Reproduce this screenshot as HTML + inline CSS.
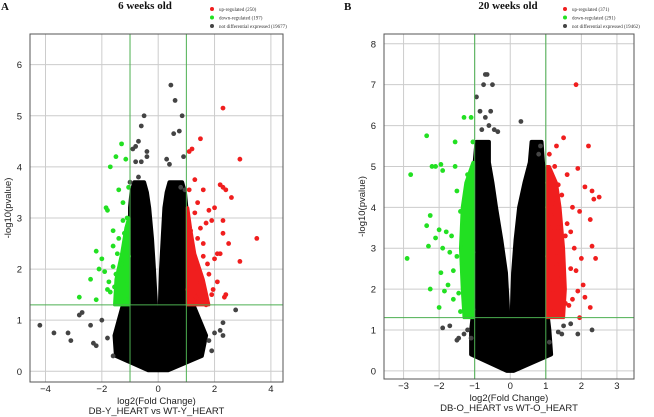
<!DOCTYPE html>
<html><head><meta charset="utf-8"><style>
html,body{margin:0;padding:0;background:#fff;width:654px;height:417px;overflow:hidden}
svg{display:block}
.t{font-family:"Liberation Sans",sans-serif;font-size:9.5px;fill:#222}
.s{font-family:"Liberation Serif",serif;font-size:5px;fill:#333}
.h{font-family:"Liberation Serif",serif;font-size:11px;font-weight:bold;fill:#111}
</style></head><body>
<svg id="chart" width="654" height="417"></svg>
<script>
// ---------- data: panel A (6 weeks) ----------
const aLegend = ["up-regulated (250)","down-regulated (197)","not differential expressed (19677)"];
const aXTicks = [-4,-2,0,2,4];
const aYTicks = [0,1,2,3,4,5,6];
// envelope of dense black cloud: y, leftOuter, leftInner, rightInner, rightOuter
const aEnvY  = [0.02,0.3,0.7,1.3,2.0,2.6,3.2,3.5,3.7];
const aEnvLO = [-0.35,-1.5,-1.55,-1.25,-1.02,-1.0,-1.0,-0.95,-0.85];
const aEnvLI = [-0.02,-0.04,-0.05,-0.08,-0.15,-0.22,-0.32,-0.4,-0.5];
const aEnvRI = [0.02,0.03,0.04,0.06,0.1,0.16,0.22,0.3,0.4];
const aEnvRO = [0.35,1.55,1.7,1.25,1.02,1.0,1.0,0.95,0.85];
// dense coloured regions: y, extreme x edge (inner edge at threshold)
const aUpDY = [1.3,1.8,2.3,2.8,3.2];
const aUpDX = [1.8,1.6,1.3,1.15,1.05];
const aDnDY = [1.3,1.8,2.3,2.8,3.0];
const aDnDX = [-1.55,-1.5,-1.3,-1.15,-1.05];
const aGrayX = [-4.2,-3.7,-3.2,-3.1,-2.8,-2.7,-2.4,-2.3,-2.0,-2.2,-1.8,-1.6,-0.5,-0.4,-0.6,-0.8,-0.7,-0.9,-0.6,-0.4,-0.8,0.45,0.6,0.55,0.85,0.9,0.75,0.3,0.4,2.75,2.3,2.2,2.0,1.9,2.3,1.8,-1.0,-0.7,0.8,0.95];
const aGrayY = [0.9,0.75,0.75,0.6,1.1,1.15,0.9,0.55,1.0,0.5,0.65,0.3,5.0,4.3,4.8,4.4,4.5,4.35,4.1,4.2,4.1,5.6,5.3,4.65,5.0,4.2,4.7,4.15,4.05,1.2,0.95,0.8,0.75,0.4,0.7,0.6,3.7,3.8,3.6,3.55];
const aUpX = [2.3,2.9,1.5,1.1,1.2,1.3,1.4,1.6,1.8,2.0,2.2,2.3,2.4,2.6,3.5,2.9,2.1,2.5,2.3,1.9,1.7,1.5,1.2,1.1,1.3,1.6,2.0,2.2,1.4,1.8,1.1,1.05,1.5,1.9,2.4,2.1,1.7,1.25,1.35,1.45,1.15,1.6,1.75,1.95,2.35,2.3,1.2,1.3,1.55,1.4];
const aUpY = [5.15,4.15,4.55,4.3,4.35,3.75,3.3,3.55,3.15,3.2,3.65,3.6,3.55,3.4,2.6,2.15,2.3,2.5,2.95,2.95,2.9,2.8,2.5,3.55,3.1,2.5,2.2,2.3,2.0,1.9,2.0,1.6,1.7,1.5,1.5,1.75,1.3,1.4,1.45,1.8,2.75,2.25,2.1,1.6,1.45,2.7,1.9,1.55,1.35,2.6];
const aDnX = [-1.15,-1.3,-1.5,-1.7,-1.4,-1.85,-1.8,-1.6,-2.2,-2.0,-2.1,-2.4,-2.2,-2.8,-1.75,-1.5,-1.3,-1.2,-1.1,-1.05,-1.25,-1.6,-1.4,-1.9,-1.55,-1.35,-1.15,-1.45,-1.7,-1.2,-1.05,-1.1,-1.3,-1.6,-1.8,-1.25];
const aDnY = [4.15,4.45,4.2,4.0,3.55,3.2,3.15,2.75,2.35,2.2,2.0,1.8,1.4,1.45,1.75,1.9,2.1,2.7,3.0,3.6,2.95,2.45,2.6,1.95,1.65,1.5,1.4,2.3,1.55,2.5,2.25,1.7,1.85,2.05,1.6,3.3];
// ---------- data: panel B (20 weeks) ----------
const bLegend = ["up-regulated (371)","down-regulated (291)","not differential expressed (19462)"];
const bXTicks = [-3,-2,-1,0,1,2,3];
const bYTicks = [0,1,2,3,4,5,6,7,8];
const bEnvY  = [0.0,0.4,1.0,1.6,2.4,3.2,4.0,4.6,5.1,5.6];
const bEnvLO = [-0.1,-1.1,-1.1,-1.02,-1.0,-1.0,-1.0,-1.0,-1.0,-0.95];
const bEnvLI = [-0.02,-0.03,-0.04,-0.07,-0.12,-0.25,-0.4,-0.5,-0.6,-0.6];
const bEnvRI = [0.02,0.02,0.03,0.05,0.08,0.15,0.25,0.4,0.55,0.6];
const bEnvRO = [0.1,1.15,1.1,1.02,1.0,1.0,1.0,0.98,0.92,0.88];
const bUpDY = [1.3,2.0,3.0,4.0,4.6,5.0];
const bUpDX = [1.5,1.55,1.5,1.4,1.3,1.1];
const bDnDY = [1.3,2.0,3.0,4.0,4.6,5.1];
const bDnDX = [-1.3,-1.35,-1.4,-1.35,-1.25,-1.05];
const bGrayX = [-0.7,-0.65,-0.75,-0.5,-0.95,-0.85,-0.7,-0.55,-0.6,-0.8,-0.45,-0.35,0.3,0.85,0.8,-1.9,-1.5,-1.45,-1.7,-1.2,1.5,1.7,1.35,1.9,2.3,1.45,1.1,-1.1,-1.3];
const bGrayY = [7.25,7.25,7.0,7.0,6.7,6.35,6.2,6.35,6.0,5.9,5.9,5.85,6.1,5.5,5.3,1.05,0.75,0.8,1.1,1.0,1.1,1.15,0.95,0.9,1.0,0.9,0.7,0.8,0.9];
const bUpX = [1.85,2.2,1.5,1.3,1.1,1.25,1.6,1.9,2.1,2.3,2.5,2.35,2.25,1.95,1.75,1.45,1.2,1.05,1.15,1.35,1.55,1.8,2.0,2.3,2.4,1.7,1.3,1.1,1.2,1.5,1.9,2.1,1.65,1.4,1.15,1.05,1.25,1.6,1.85,2.25,1.95,1.35,1.45,1.75,1.15,1.55,1.05,1.3,1.7,2.05];
const bUpY = [7.0,5.5,5.7,5.5,5.3,5.0,4.8,4.95,4.5,4.4,4.25,4.2,3.7,3.9,4.0,4.3,4.1,4.6,3.8,3.5,3.3,3.0,2.75,3.05,2.75,2.5,2.6,2.2,1.9,2.1,1.95,1.8,1.6,1.5,1.45,2.8,3.2,3.6,2.45,1.55,1.3,4.55,2.3,1.75,3.5,1.65,4.0,2.9,3.4,2.1];
const bDnX = [-2.9,-2.8,-2.35,-2.2,-2.1,-1.95,-1.9,-1.55,-1.55,-1.3,-1.1,-1.05,-2.25,-2.35,-2.0,-1.8,-1.65,-1.4,-1.2,-1.1,-2.3,-2.1,-1.9,-1.7,-1.5,-1.3,-2.25,-1.95,-1.75,-1.45,-1.25,-1.05,-1.15,-1.35,-1.6,-1.85,-2.0,-1.4,-1.25,-1.1,-1.5,-1.2,-1.05,-1.3,-1.6,-1.15];
const bDnY = [2.75,4.8,5.75,5.0,5.0,5.05,4.9,5.6,5.0,6.2,6.2,5.6,3.8,3.55,3.45,3.4,3.3,3.9,4.2,4.55,3.05,3.25,3.0,2.9,2.8,3.1,2.0,2.4,2.1,1.9,1.7,1.5,2.3,2.6,2.45,1.95,1.55,1.45,3.6,3.8,4.4,4.8,2.9,2.2,1.75,4.0];

const NS="http://www.w3.org/2000/svg";
const svg=document.getElementById('chart');
function mk(tag,attrs,parent){const e=document.createElementNS(NS,tag);for(const k in attrs)e.setAttribute(k,attrs[k]);(parent||svg).appendChild(e);return e;}

function panel(P){
  const g=mk('g',{});
  
  
  const sx=v=>P.x0+(v-P.xmin)/(P.xmax-P.xmin)*(P.x1-P.x0);
  const sy=v=>P.y1-(v-P.ymin)/(P.ymax-P.ymin)*(P.y1-P.y0);
  mk('rect',{x:P.x0,y:P.y0,width:P.x1-P.x0,height:P.y1-P.y0,fill:'#fff'},g);
  P.xt.forEach(v=>{
    const l=mk('line',{x1:sx(v),x2:sx(v),y1:P.y0,y2:P.y1,stroke:'#ccc','stroke-width':1},g);
    
    
    const t=mk('text',{x:sx(v),y:P.y1+10,'text-anchor':'middle',class:'t'},g);t.textContent=v<0?'\u2212'+(-v):v;
    
    
  });
  P.yt.forEach(v=>{
    const l=mk('line',{x1:P.x0,x2:P.x1,y1:sy(v),y2:sy(v),stroke:'#ccc','stroke-width':1},g);
    
    
    const t=mk('text',{x:P.x0-8,y:sy(v)+3.5,'text-anchor':'end',class:'t'},g);t.textContent=v;
    
    
  });
  // dense black cloud
  const E=P.env;
  let lp=E.y.map((y,i)=>sx(E.lo[i])+','+sy(y)).concat(E.y.map((y,i)=>sx(E.li[i])+','+sy(y)).reverse());
  let rp=E.y.map((y,i)=>sx(E.ri[i])+','+sy(y)).concat(E.y.map((y,i)=>sx(E.ro[i])+','+sy(y)).reverse());
  [lp,rp].forEach(pts=>{
    const p=mk('polygon',{points:pts.join(' '),fill:'#000',stroke:'#000','stroke-width':4,'stroke-linejoin':'round'},g);
    
    
  });
  // dense coloured regions
  const dense=(Y,X,edge,c,name)=>{
    const pts=Y.map((y,i)=>sx(X[i])+','+sy(y)).concat(Y.slice().reverse().map(y=>sx(edge)+','+sy(y)));
    const p=mk('polygon',{points:pts.join(' '),fill:c,stroke:c,'stroke-width':3,'stroke-linejoin':'round'},g);
    
    
  };
  dense(P.udy,P.udx,1.03,'#f01e1e','up-dense-region');
  dense(P.ddy,P.ddx,-1.03,'#22e022','down-dense-region');
  const dots=(X,Y,c,name)=>X.forEach((x,i)=>{
    const d=mk('circle',{cx:sx(x),cy:sy(Y[i]),r:2.4,fill:c},g);
    
    
  });
  dots(P.gx,P.gy,'#444','gray-point');
  dots(P.ux,P.uy,'#f01e1e','up-point');
  dots(P.dx,P.dy,'#22e022','down-point');
  // thresholds
  [-1,1].forEach(v=>{const l=mk('line',{x1:sx(v),x2:sx(v),y1:P.y0,y2:P.y1,stroke:'#4caf50','stroke-width':1},g);
    
    });
  const h=mk('line',{x1:P.x0,x2:P.x1,y1:sy(1.3),y2:sy(1.3),stroke:'#4caf50','stroke-width':1},g);
  
  
  const fr=mk('rect',{x:P.x0,y:P.y0,width:P.x1-P.x0,height:P.y1-P.y0,fill:'none',stroke:'#555','stroke-width':1},g);
  
  
  // labels
  const cx=(P.x0+P.x1)/2;
  let t=mk('text',{x:cx,y:P.y1+22,'text-anchor':'middle',class:'t'},g);t.textContent='log2(Fold Change)';
  
  t=mk('text',{x:cx,y:P.y1+32,'text-anchor':'middle',class:'t'},g);t.textContent=P.comp;
  
  t=mk('text',{x:0,y:0,'text-anchor':'middle',class:'t',transform:`translate(${P.x0-19},${(P.y0+P.y1)/2}) rotate(-90)`},g);t.textContent='-log10(pvalue)';
  
  t=mk('text',{x:P.tx,y:9,'text-anchor':'middle',class:'h'},g);t.textContent=P.title;
  
  t=mk('text',{x:P.lx,y:10,class:'h'},g);t.textContent=P.letter;
  
  const lc=['#f01e1e','#22e022','#444'];
  P.leg.forEach((s,i)=>{
    const c=mk('circle',{cx:P.legx,cy:9+i*8.5,r:2,fill:lc[i]},g);
    
    const tt=mk('text',{x:P.legx+7,y:11+i*8.5,class:'s'},g);tt.textContent=s;
    
  });
}
panel({name:'panel-a-6-weeks',x0:30,x1:283,y0:34,y1:382,xmin:-4.55,xmax:4.43,ymin:-0.21,ymax:6.6,
  xt:aXTicks,yt:aYTicks,env:{y:aEnvY,lo:aEnvLO,li:aEnvLI,ri:aEnvRI,ro:aEnvRO},
  udy:aUpDY,udx:aUpDX,ddy:aDnDY,ddx:aDnDX,
  gx:aGrayX,gy:aGrayY,ux:aUpX,uy:aUpY,dx:aDnX,dy:aDnY,comp:'DB-Y_HEART vs WT-Y_HEART',
  title:'6 weeks old',tx:145,letter:'A',lx:1,leg:aLegend,legx:212});
panel({name:'panel-b-20-weeks',x0:384,x1:634,y0:34,y1:379,xmin:-3.55,xmax:3.48,ymin:-0.2,ymax:8.24,
  xt:bXTicks,yt:bYTicks,env:{y:bEnvY,lo:bEnvLO,li:bEnvLI,ri:bEnvRI,ro:bEnvRO},
  udy:bUpDY,udx:bUpDX,ddy:bDnDY,ddx:bDnDX,
  gx:bGrayX,gy:bGrayY,ux:bUpX,uy:bUpY,dx:bDnX,dy:bDnY,comp:'DB-O_HEART vs WT-O_HEART',
  title:'20 weeks old',tx:508,letter:'B',lx:344,leg:bLegend,legx:565});
</script>
</body></html>
